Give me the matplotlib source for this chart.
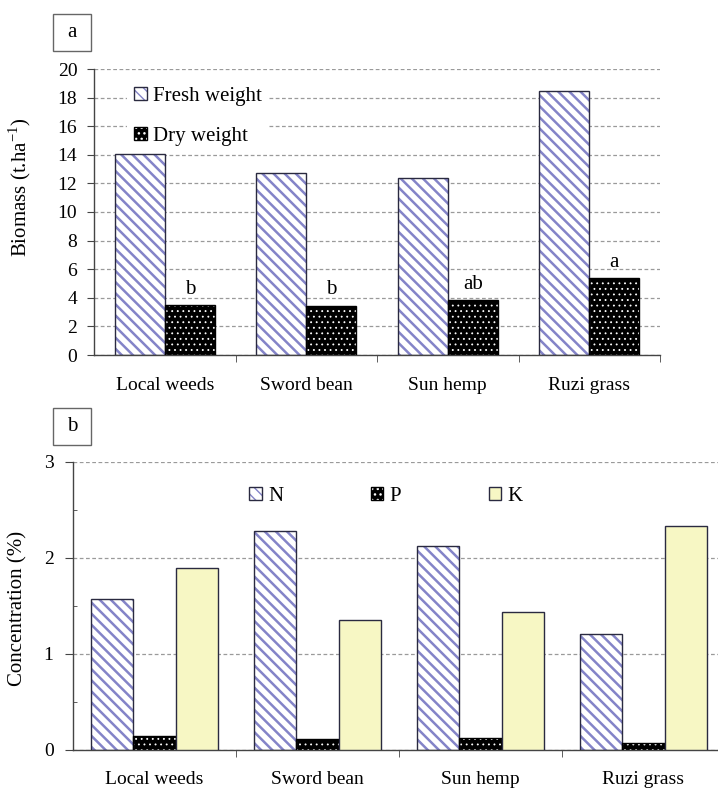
import matplotlib
matplotlib.use("Agg")
import matplotlib.pyplot as plt
import numpy as np
from matplotlib.patches import Rectangle
from matplotlib.legend_handler import HandlerTuple
from matplotlib.ticker import MultipleLocator, FixedLocator

plt.rcParams['font.family'] = ['Liberation Serif', 'DejaVu Serif']
plt.rcParams['font.size'] = 13

crops = ['Local weeds', 'Sword bean', 'Sun hemp', 'Ruzi grass']

# biomass, t/ha
fresh_weight = [14.05, 12.7, 12.35, 18.45]
dry_weight = [3.5, 3.45, 3.85, 5.35]
dry_letters = ['b', 'b', 'ab', 'a']

# nutrient concentration, %
conc_n = [1.57, 2.28, 2.12, 1.21]
conc_p = [0.15, 0.11, 0.12, 0.07]
conc_k = [1.89, 1.35, 1.44, 2.33]

STRIPE = '#8484c8'
EDGE = '#2a2a40'
GRID = '#9a9a9a'
K_FILL = '#f7f7c4'
STRIPE_LW = 1.8
DOT_LW = 0.6


def set_hlw(artists, lw):
    for a in artists:
        if hasattr(a, 'set_hatch_linewidth'):
            a.set_hatch_linewidth(lw)


def striped_bar(ax, x, h, w):
    with plt.rc_context({'hatch.linewidth': STRIPE_LW}):
        bars = ax.bar(x, h, w, color='white', edgecolor=STRIPE, hatch='\\\\\\', lw=0, zorder=2)
    set_hlw(bars, STRIPE_LW)
    return ax.bar(x, h, w, color='none', edgecolor=EDGE, lw=1.0, zorder=3)


def dotted_bar(ax, x, h, w):
    with plt.rc_context({'hatch.linewidth': DOT_LW}):
        bars = ax.bar(x, h, w, color='black', edgecolor='white', hatch='...', lw=0, zorder=2)
    set_hlw(bars, DOT_LW)
    return ax.bar(x, h, w, color='none', edgecolor='black', lw=1.0, zorder=3)


def style_axes(ax):
    for s in ['top', 'right']:
        ax.spines[s].set_visible(False)
    for s in ['left', 'bottom']:
        ax.spines[s].set_color('#444444')
        ax.spines[s].set_linewidth(1.0)
    ax.yaxis.grid(True, color=GRID, linestyle=(0, (3, 2)), lw=0.9)
    ax.set_axisbelow(True)
    ax.set_xlim(-0.5, len(crops) - 0.5)
    ax.set_xticks(range(len(crops)))
    ax.set_xticklabels(crops, fontsize=14)
    ax.xaxis.set_minor_locator(FixedLocator(np.arange(0.5, len(crops), 1.0)))
    ax.tick_params(axis='x', which='major', length=0, pad=16)
    ax.tick_params(axis='x', which='minor', length=5, direction='out', color='#444444')
    ax.tick_params(axis='y', which='major', length=5, direction='out', color='#444444', labelsize=14)


def hatch_handle(face, hatch, hcolor, ecolor, hlw):
    with plt.rc_context({'hatch.linewidth': hlw}):
        a = Rectangle((0, 0), 1, 1, facecolor=face, edgecolor=hcolor, hatch=hatch, lw=0)
    set_hlw([a], hlw)
    b = Rectangle((0, 0), 1, 1, facecolor='none', edgecolor=ecolor, lw=1.0)
    return (a, b)


def panel_tag(fig, x0, y0, text):
    w, h = 38, 37
    fig.patches.append(Rectangle((x0 / 718, 1 - (y0 + h) / 788), w / 718, h / 788,
                                 transform=fig.transFigure, fill=False,
                                 ec='#666666', lw=1.0))
    fig.text((x0 + w / 2) / 718, 1 - (y0 + h / 2) / 788, text, ha='center',
             va='center', fontsize=15)


fig = plt.figure(figsize=(7.18, 7.88), dpi=100)

# --- (a) biomass ---
ax1 = fig.add_axes([94 / 718, 1 - 355 / 788, 566 / 718, 286 / 788])
x = np.arange(len(crops))
w1 = 0.354
striped_bar(ax1, x - w1 / 2, fresh_weight, w1)
dotted_bar(ax1, x + w1 / 2, dry_weight, w1)
for xi, v, t in zip(x, dry_weight, dry_letters):
    ax1.text(xi + w1 / 2, v + 0.45, t, ha='center', va='bottom', fontsize=15)
ax1.set_ylim(0, 20)
ax1.yaxis.set_major_locator(MultipleLocator(2))
style_axes(ax1)
ax1.tick_params(axis='y', pad=7)
ax1.set_ylabel('Biomass (t.ha$^{\\mathregular{-1}}$)', fontsize=15)
ax1.yaxis.set_label_coords(-0.108, 0.587)

leg1 = ax1.legend([hatch_handle('white', '\\\\\\', STRIPE, EDGE, STRIPE_LW),
                   hatch_handle('black', '...', 'white', 'black', DOT_LW)],
                  ['Fresh weight', 'Dry weight'],
                  handler_map={tuple: HandlerTuple(ndivide=1)},
                  loc='upper left', bbox_to_anchor=(0.04, 1.0),
                  handlelength=0.6, handleheight=0.6, handletextpad=0.3,
                  labelspacing=1.0, fontsize=15, frameon=True,
                  facecolor='white', edgecolor='none', framealpha=1,
                  borderpad=0.35, fancybox=False)
leg1.set_zorder(1.5)

# --- (b) N, P, K concentration ---
ax2 = fig.add_axes([73 / 718, 1 - 750 / 788, 652 / 718, 288.3 / 788])
w2 = 0.26
striped_bar(ax2, x - w2, conc_n, w2)
dotted_bar(ax2, x, conc_p, w2)
ax2.bar(x + w2, conc_k, w2, color=K_FILL, edgecolor=EDGE, lw=1.0, zorder=3)
ax2.set_ylim(0, 3)
ax2.yaxis.set_major_locator(MultipleLocator(1))
ax2.yaxis.set_minor_locator(MultipleLocator(0.5))
style_axes(ax2)
ax2.tick_params(axis='x', which='major', pad=15)
ax2.tick_params(axis='y', which='major', pad=8, length=6)
ax2.tick_params(axis='y', which='minor', length=3, direction='in', color='#444444')
ax2.set_ylabel('Concentration (%)', fontsize=15)
ax2.yaxis.set_label_coords(-0.07, 0.49)

k_handle = Rectangle((0, 0), 1, 1, facecolor=K_FILL, edgecolor=EDGE, lw=1.0)
leg2 = ax2.legend([hatch_handle('white', '\\\\\\', STRIPE, EDGE, STRIPE_LW),
                   hatch_handle('black', '...', 'white', 'black', DOT_LW),
                   k_handle],
                  ['N', 'P', 'K'],
                  handler_map={tuple: HandlerTuple(ndivide=1)},
                  loc='center', bbox_to_anchor=(0.48, 0.88), ncol=3,
                  handlelength=0.6, handleheight=0.6, handletextpad=0.3,
                  columnspacing=4.2, fontsize=15, frameon=False)

panel_tag(fig, 53, 14, 'a')
panel_tag(fig, 53, 408, 'b')

fig.savefig('out.png', dpi=100)
